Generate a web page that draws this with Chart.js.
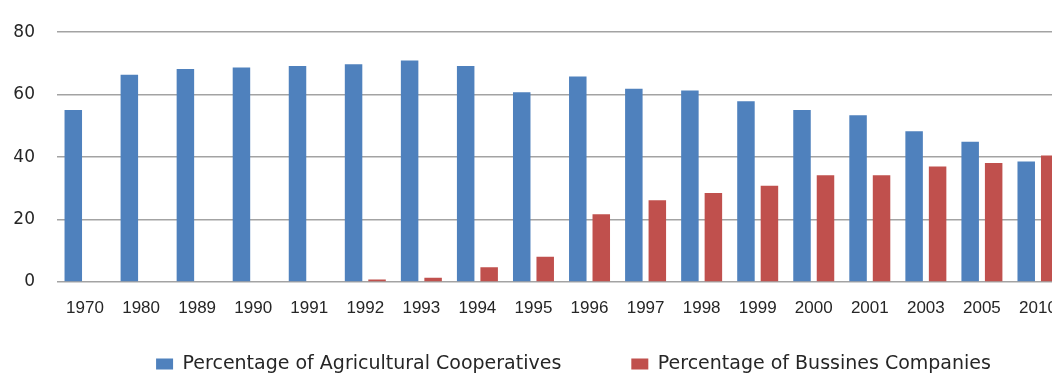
<!DOCTYPE html>
<html>
<head>
<meta charset="utf-8">
<title>Cooperatives vs companies</title>
<script src="https://cdn.jsdelivr.net/npm/chart.js@4.4.1/dist/chart.umd.min.js"></script>
<style>
  html, body { margin: 0; padding: 0; background: #fff; overflow: hidden; }
  #wrap { width: 1147px; height: 374px; }
</style>
</head>
<body>
<div id="wrap"><canvas id="chart" width="1147" height="374"></canvas></div>
<script>
// values
const years = ['1970', '1980', '1989', '1990', '1991', '1992', '1993', '1994', '1995',
  '1996', '1997', '1998', '1999', '2000', '2001', '2003', '2005', '2010'];
const coopShare = [55.1, 66.4, 68.2, 68.7, 69.2, 69.7, 70.9, 69.2, 60.8,
  65.8, 61.9, 61.3, 57.9, 55.1, 53.4, 48.3, 44.9, 38.6];
const companyShare = [0, 0, 0, 0, 0, 0.8, 1.4, 4.7, 8.1,
  21.7, 26.2, 28.5, 30.8, 34.2, 34.2, 37.0, 38.1, 40.5];
const yTicks = [0, 20, 40, 60, 80];

const seriesNames = ['Percentage of Agricultural Cooperatives', 'Percentage of Bussines Companies'];
const textColor = '#262626';

new Chart(document.getElementById('chart'), {
  type: 'bar',
  data: {
    labels: years,
    datasets: [{
      label: seriesNames[0],
      data: coopShare,
      backgroundColor: '#4f81bd',
      borderWidth: 0
    }, {
      label: seriesNames[1],
      data: companyShare,
      backgroundColor: '#c0504d',
      borderWidth: 0
    }]
  },
  options: {
    responsive: false,
    animation: false,
    categoryPercentage: 0.838,
    barPercentage: 0.745,
    layout: { padding: { top: 23, left: 0, right: 0, bottom: 0 } },
    plugins: {
      tooltip: { enabled: false },
      legend: {
        position: 'bottom',
        maxHeight: 89.5,
        labels: {
          boxWidth: 17,
          boxHeight: 11,
          padding: 70,
          color: textColor,
          font: { family: 'DejaVu Sans', size: 19 }
        }
      }
    },
    scales: {
      x: {
        grid: { display: false },
        border: { display: false },
        // the legend needs a wide item gap, so the axis box is kept thin
        // and the labels are pushed below it (mirror turns off label clipping)
        ticks: {
          autoSkip: false,
          maxRotation: 0,
          mirror: true,
          padding: -36.7,
          color: textColor,
          font: { family: 'Liberation Sans', size: 17 }
        },
        afterFit: (s) => { s.height = 2.5; }
      },
      y: {
        min: 0,
        max: yTicks[yTicks.length - 1],
        afterBuildTicks: (s) => { s.ticks = yTicks.map(v => ({ value: v })); },
        grid: { color: '#a3a3a3', lineWidth: 1.5, drawTicks: false },
        border: { display: false },
        ticks: {
          padding: 22,
          color: textColor,
          font: { family: 'DejaVu Sans', size: 17 }
        },
        afterFit: (s) => { s.width = 57; }
      },
      // empty right axis: keeps the plot narrower than the legend area
      yRight: {
        position: 'right',
        grid: { display: false },
        border: { display: false },
        ticks: { display: false },
        afterFit: (s) => { s.width = 81; }
      }
    }
  }
});
</script>
</body>
</html>
